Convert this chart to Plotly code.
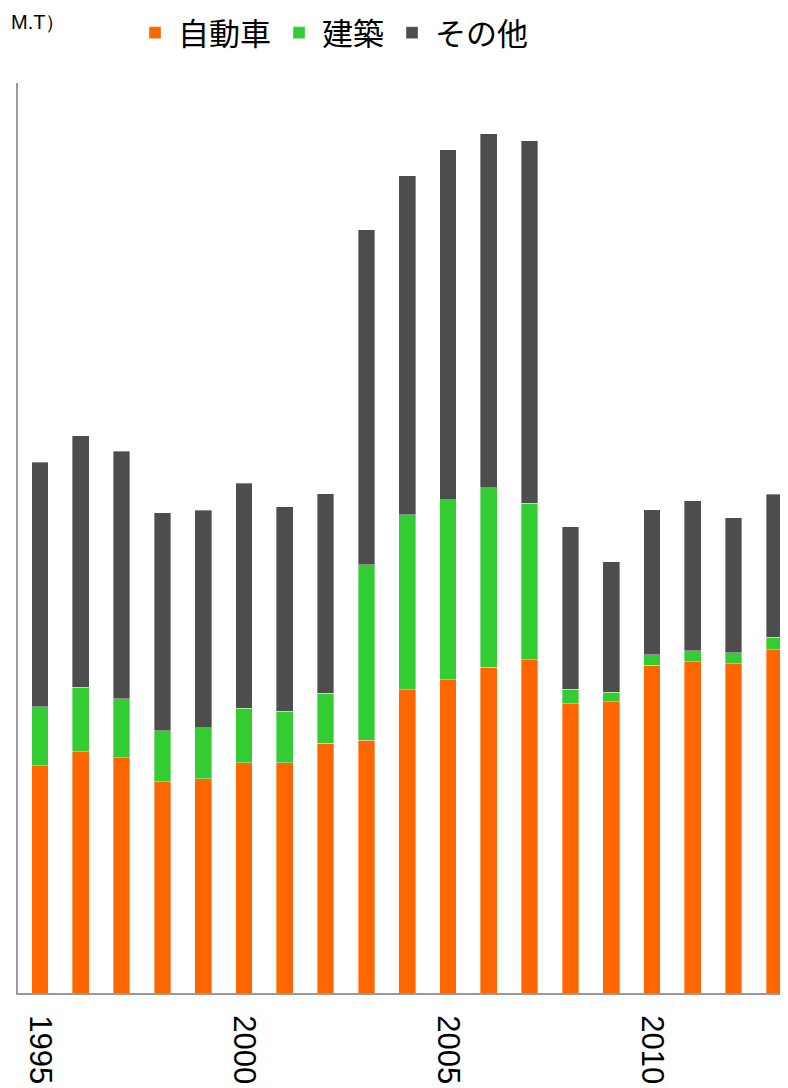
import plotly.graph_objects as go

years = list(range(1995, 2014))
auto = [455, 483, 471, 423, 429, 461, 461, 500, 506, 607, 627, 652, 667, 579, 583, 656, 663, 659, 687]
build = [118, 129, 118, 102, 102, 109, 103, 100, 351, 350, 360, 359, 313, 29, 19, 21, 22, 22, 25]
other = [489, 503, 495, 436, 435, 450, 409, 399, 670, 678, 700, 708, 725, 325, 261, 290, 300, 270, 286]
tick_years = [1995, 2000, 2005, 2010]
tick_labels = ["1995", "2000", "2005", "2010"]
unit_label = "M.T）"

series = [("自動車", auto, "#FF6600"), ("建築", build, "#33CC33"), ("その他", other, "#4D4D4D")]

fig = go.Figure()
for name, vals, col in series:
    fig.add_trace(go.Bar(
        x=years, y=vals, name=name, width=0.41,
        marker=dict(color=col, line=dict(color="rgba(255,255,255,0.6)", width=0.6)),
    ))

fig.update_layout(
    barmode="stack",
    width=788, height=1088,
    margin=dict(l=10, r=8, t=75, b=103),
    paper_bgcolor="white", plot_bgcolor="white",
    font=dict(family="Liberation Sans, Arial, sans-serif", color="black"),
    showlegend=True,
    legend=dict(
        orientation="h", x=0.1574, xanchor="left", xref="container",
        y=0.977, yanchor="middle", yref="container",
        font=dict(size=31, family="Noto Sans CJK JP"),
        traceorder="normal", itemwidth=36,
    ),
    xaxis=dict(
        range=[1994.461, 2013.333], showgrid=False, zeroline=False,
        showline=True, linecolor="#999999", linewidth=2,
        tickmode="array", tickvals=tick_years, ticktext=tick_labels,
        tickangle=90, tickfont=dict(size=31, family="Liberation Sans"),
        ticks="", ticklabelstandoff=14,
    ),
    yaxis=dict(
        range=[0, 1820], showgrid=False, zeroline=False,
        showline=True, linecolor="#999999", linewidth=2,
        showticklabels=False, ticks="",
    ),
    annotations=[dict(
        text=unit_label, xref="paper", yref="paper", x=-0.012, y=1.067,
        xanchor="left", yanchor="middle", showarrow=False,
        font=dict(size=20, family="Liberation Sans", color="black"),
    )],
)
fig.write_html("out.html")
